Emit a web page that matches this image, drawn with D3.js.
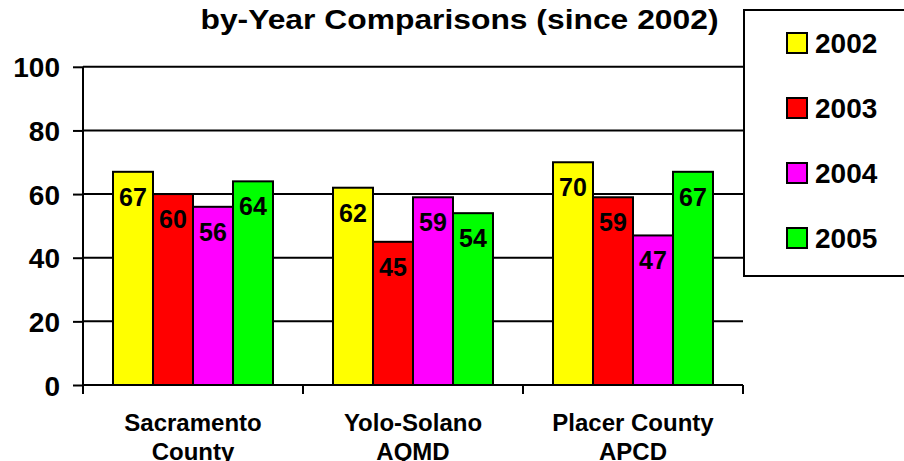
<!DOCTYPE html>
<html>
<head>
<meta charset="utf-8">
<script src="https://cdn.jsdelivr.net/npm/d3@7"></script>
<style>
  html, body { margin: 0; padding: 0; background: #fff; }
  svg { display: block; font-family: "Liberation Sans", Arial, sans-serif; font-weight: bold; }
</style>
</head>
<body>
<svg id="chart" width="904" height="461"></svg>
<script>
const titleText = "by-Year Comparisons (since 2002)";
const categories = [["Sacramento", "County"], ["Yolo-Solano", "AQMD"], ["Placer County", "APCD"]];
const years = ["2002", "2003", "2004", "2005"];
const colors = ["#FFFF00", "#FF0000", "#FF00FF", "#00FF00"];
const values2002 = [67, 62, 70];
const values2003 = [60, 45, 59];
const values2004 = [56, 59, 47];
const values2005 = [64, 54, 67];
const yTicks = [0, 20, 40, 60, 80, 100];

(function () {
const series = [values2002, values2003, values2004, values2005];
const svg = d3.select("#chart");

const pLeft = 83, pRight = 743, pTop = 66.8, pBottom = 385;
const y = d3.scaleLinear().domain([0, 100]).range([pBottom, pTop]);
const x0 = d3.scaleBand().domain(d3.range(categories.length)).range([pLeft, pRight]).padding(0);
const x1 = d3.scaleBand().domain(years).range([30, x0.bandwidth() - 30]).padding(0);
const color = d3.scaleOrdinal().domain(years).range(colors);

// gridlines
svg.append("g").selectAll("line").data(yTicks.filter(t => t > 0)).join("line")
  .attr("x1", pLeft).attr("x2", pRight)
  .attr("y1", d => y(d)).attr("y2", d => y(d))
  .attr("stroke", "#000").attr("stroke-width", 2);

// y axis
const yAxis = d3.axisLeft(y).tickValues(yTicks).tickSize(10).tickPadding(13).tickFormat(d3.format("d"));
const gy = svg.append("g").attr("transform", `translate(${pLeft},0)`).call(yAxis);
gy.select(".domain").remove();
gy.selectAll(".tick line").attr("stroke", "#000").attr("stroke-width", 2);
gy.selectAll(".tick text").attr("font-size", 28).attr("font-weight", "bold")
  .attr("font-family", "Liberation Sans, Arial, sans-serif").attr("fill", "#000").attr("dy", "0.36em");
svg.append("line").attr("x1", pLeft).attr("x2", pLeft).attr("y1", pTop).attr("y2", pBottom + 9)
  .attr("stroke", "#000").attr("stroke-width", 2);

// bars
const groups = svg.append("g").selectAll("g").data(categories.map((c, i) => i)).join("g")
  .attr("transform", i => `translate(${x0(i)},0)`);
groups.selectAll("rect").data(i => years.map((yr, k) => ({ yr, v: series[k][i] }))).join("rect")
  .attr("x", d => x1(d.yr)).attr("width", x1.bandwidth())
  .attr("y", d => y(d.v)).attr("height", d => y(0) - y(d.v))
  .attr("fill", d => color(d.yr)).attr("stroke", "#000").attr("stroke-width", 2);
groups.selectAll("text").data(i => years.map((yr, k) => ({ yr, v: series[k][i] }))).join("text")
  .attr("x", d => x1(d.yr) + x1.bandwidth() / 2).attr("y", d => y(d.v) + 34)
  .attr("text-anchor", "middle").attr("font-size", 25).attr("fill", "#000")
  .text(d => d.v);

// x axis
svg.append("line").attr("x1", pLeft).attr("x2", pRight).attr("y1", pBottom).attr("y2", pBottom)
  .attr("stroke", "#000").attr("stroke-width", 2);
const boundaries = d3.range(categories.length + 1).map(i => i < categories.length ? x0(i) : pRight);
svg.append("g").selectAll("line").data(boundaries).join("line")
  .attr("x1", d => d).attr("x2", d => d).attr("y1", pBottom).attr("y2", pBottom + 9)
  .attr("stroke", "#000").attr("stroke-width", 2);
const cl = svg.append("g").selectAll("text").data(categories).join("text")
  .attr("text-anchor", "middle").attr("font-size", 24).attr("fill", "#000");
cl.each(function (lines, i) {
  const t = d3.select(this);
  lines.forEach((ln, j) => {
    t.append("tspan").attr("x", x0(i) + x0.bandwidth() / 2).attr("y", 431 + j * 29).text(ln);
  });
});

// title
svg.append("text").attr("x", 459.5).attr("y", 29).attr("text-anchor", "middle")
  .attr("font-size", 28).attr("textLength", 518).attr("lengthAdjust", "spacingAndGlyphs")
  .attr("fill", "#000").text(titleText);

// legend
const lg = svg.append("g");
lg.append("rect").attr("x", 744).attr("y", 10).attr("width", 180).attr("height", 266)
  .attr("fill", "#fff").attr("stroke", "#000").attr("stroke-width", 2);
const items = lg.selectAll("g").data(years).join("g")
  .attr("transform", (d, i) => `translate(0,${43 + i * 65})`);
items.append("rect").attr("x", 787).attr("y", -10).attr("width", 20).attr("height", 20)
  .attr("fill", d => color(d)).attr("stroke", "#000").attr("stroke-width", 2);
items.append("text").attr("x", 815).attr("y", 10).attr("font-size", 28).attr("fill", "#000").text(d => d);
})();
</script>
</body>
</html>
